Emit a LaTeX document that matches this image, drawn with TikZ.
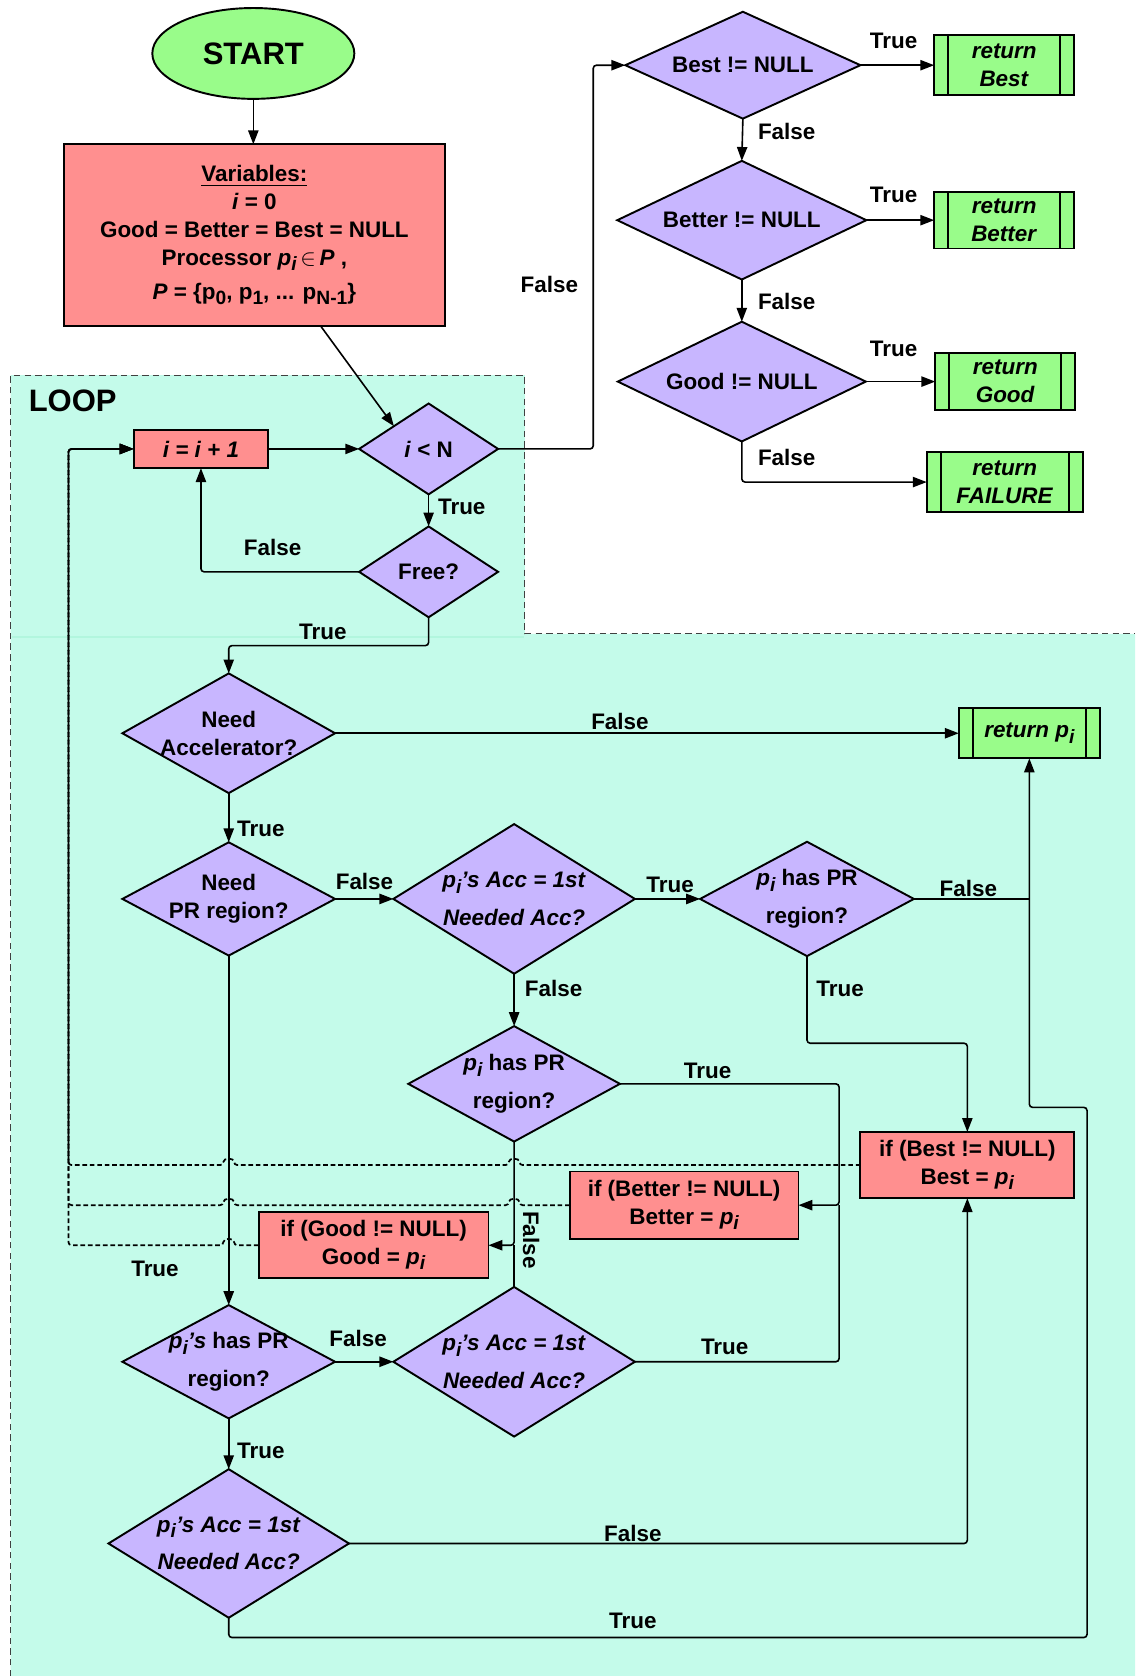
\documentclass[tikz,border=0pt]{standalone}
\usepackage{fontspec}
\setmainfont{Liberation Sans}
\usetikzlibrary{arrows.meta,calc,shapes.geometric}
\definecolor{gfill}{RGB}{153,252,138}
\definecolor{rfill}{RGB}{255,143,143}
\definecolor{pfill}{RGB}{200,182,255}
\definecolor{cfill}{RGB}{196,251,234}
\definecolor{cline}{RGB}{178,246,222}
\newcommand\sbs[1]{\raisebox{-0.45ex}{\fontsize{9}{9}\selectfont #1}}
\newcommand\pii{\textit{p\sbs{i}}}
\newcommand\retbox[6]{%
  \node[term, minimum width=#4pt, minimum height=#5pt] (#1) at (#2,#3) {#6};
  \draw[line width=0.9pt] ([xshift=6.5pt]#1.north west) -- ([xshift=6.5pt]#1.south west)
        ([xshift=-6.5pt]#1.north east) -- ([xshift=-6.5pt]#1.south east);}
\newcommand\decision[6]{%
  \node[dec, minimum width=#4pt, minimum height=#5pt] (#1) at (#2,#3) {};
  \node[dtext] (#1-t) at (#2,#3) {#6};}
\begin{document}
\begin{tikzpicture}[x=0.5pt,y=-0.5pt,
  font=\bfseries\fontsize{10.5}{13}\selectfont,
  >={Triangle[length=6.5pt,width=4.8pt]},
  conn/.style={draw, line width=0.75pt, rounded corners=1.5pt},
  arr/.style={conn,->},
  dsh/.style={draw, line width=0.8pt, dash pattern=on 2.2pt off 1.3pt, rounded corners=1.5pt},
  dec/.style={shape=diamond, draw, fill=pfill, line width=0.9pt, inner sep=0pt, outer sep=0pt},
  dtext/.style={inner sep=0pt, align=center},
  proc/.style={draw, fill=rfill, line width=0.9pt, align=center, inner sep=0pt, outer sep=0pt},
  term/.style={draw, fill=gfill, line width=0.9pt, align=center, inner sep=0pt, outer sep=0pt},
  lbl/.style={inner sep=0pt}]

\useasboundingbox (0,0) rectangle (1062,1568);
% loop background
\fill[cfill] (10,351) -- (491,351) -- (491,593) -- (1062,593) -- (1062,1568) -- (10,1568) -- cycle;
\draw[cline, line width=0.6pt] (11,596) -- (490,596);
\draw[black!75, line width=0.5pt, dash pattern=on 3pt off 2pt] (10,1568) -- (10,351) -- (491,351) -- (491,593) -- (1062,593);
\node[lbl, font=\bfseries\fontsize{14.5}{16}\selectfont] (loop) at (68,375) {LOOP};

% start and variables
\node[draw, ellipse, fill=gfill, line width=0.9pt, minimum width=94.5pt, minimum height=42.5pt, inner sep=0pt, outer sep=0pt,
      font=\bfseries\fontsize{14.5}{16}\selectfont] (start) at (237,50) {START};
\node[proc, minimum width=178pt, minimum height=85pt] (vars) at (238,220)
  {\underline{Variables:}\\
   \textit{i} = 0\\
   Good = Better = Best = NULL\\
   Processor \pii\,$\in$\,\textit{P} ,\\[3pt]
   \textit{P} = \{p\sbs{0}, p\sbs{1}, ... p\sbs{N-1}\}};

% right column
\decision{best}{695}{61}{110}{50}{Best != NULL}
\decision{better}{694}{206}{116.5}{55.5}{Better != NULL}
\decision{good}{694}{357}{116}{56}{Good != NULL}
\retbox{rBest}{939.5}{61}{65.5}{28}{\textit{return}\\\textit{Best}}
\retbox{rBetter}{939.5}{206}{65.5}{26.5}{\textit{return}\\\textit{Better}}
\retbox{rGood}{940.5}{357}{65.5}{27}{\textit{return}\\\textit{Good}}
\retbox{rFail}{940}{451}{73}{28}{\textit{return}\\\textit{FAILURE}}

% loop head
\node[proc, minimum width=63pt, minimum height=18pt] (inc) at (188,420) {\textit{i = i + 1}};
\decision{iN}{401}{420}{65}{42.5}{\textit{i} < N}
\decision{free}{401}{535}{65}{42.5}{Free?}

% main body
\decision{needAcc}{214}{686}{99.5}{56}{Need\\Accelerator?}
\retbox{rPi}{963}{686}{66}{23.5}{\textit{return} \pii}
\decision{needPR}{214}{841}{99.5}{53}{Need\\PR region?}
\decision{acc1}{481}{841}{113}{70}{\pii\textit{'s Acc = 1st}\\[4.5pt]\textit{Needed Acc?}}
\decision{pr1}{755}{841}{100}{53.5}{\pii\ has PR\\[4.5pt]region?}
\decision{pr2}{481}{1014}{99}{54}{\pii\ has PR\\[4.5pt]region?}
\node[proc, minimum width=100pt, minimum height=31pt] (bestBox) at (905,1090) {if (Best != NULL)\\Best = \pii};
\node[proc, minimum width=107pt, minimum height=31.5pt] (betterBox) at (640,1127.5) {if (Better != NULL)\\Better = \pii};
\node[proc, minimum width=107.5pt, minimum height=31pt] (goodBox) at (349.5,1165) {if (Good != NULL)\\Good = \pii};
\decision{prL}{214}{1274}{99.5}{53}{\pii\textit{'s} has PR\\[4.5pt]region?}
\decision{accL}{481}{1274}{113}{70}{\pii\textit{'s Acc = 1st}\\[4.5pt]\textit{Needed Acc?}}
\decision{accB}{214}{1444}{112.5}{69.5}{\pii\textit{'s Acc = 1st}\\[4.5pt]\textit{Needed Acc?}}

% connectors: top
\draw[arr] (start.south) -- (start.south |- vars.north);
\draw[arr] ($(vars.south)+(62,0)$) -- ($(iN.north)!0.5!(iN.west)$);
\draw[arr] (inc.east) -- (inc.east -| iN.west);
\draw[arr] (iN.east) -- (555,420) -- (555,61) -- (best.west);
\draw[arr] (best.east) -- (best.east -| rBest.west);
\draw[arr] (best.south) -- (better.north);
\draw[arr] (better.east) -- (better.east -| rBetter.west);
\draw[arr] (better.south) -- (good.north);
\draw[arr] (good.east) -- (good.east -| rGood.west);
\draw[arr] (good.south) |- (rFail.west);
\draw[arr] (iN.south) -- (free.north);
\draw[arr] (free.west) -| (inc.south);
\draw[arr] (free.south) -- (401,604) -| (needAcc.north);

% connectors: body
\draw[arr] (needAcc.east) -- (needAcc.east -| rPi.west);
\draw[arr] (needAcc.south) -- (needPR.north);
\draw[arr] (needPR.east) -- (acc1.west);
\draw[arr] (acc1.east) -- (pr1.west);
\draw[conn] (pr1.east) -- (963,841);
\draw[arr] (accB.south) -- (214,1532) -- (1017,1532) -- (1017,1036) -- (963,1036) -- (rPi.south);
\draw[arr] (pr1.south) -- (755,976) -| (bestBox.north);
\draw[arr] (acc1.south) -- (pr2.north);
\draw[arr] (pr2.east) -| (785,1127.5) -- (betterBox.east);
\draw[conn] (accL.east) -| (785,1127.5);
\draw[arr] (pr2.south) |- (goodBox.east);
\draw[conn] (accL.north) -- (481,1165);
\draw[arr] (needPR.south) -- (prL.north);
\draw[arr] (prL.east) -- (accL.west);
\draw[arr] (prL.south) -- (accB.north);
\draw[arr] (accB.east) -| (bestBox.south);

% dashed back edges with hops
\draw[dsh,->] (bestBox.west) -- (486,1090) .. controls (486,1083) and (476,1083) .. (476,1090)
   -- (219,1090) .. controls (219,1083) and (209,1083) .. (209,1090) -- (64,1090) -- (64,420) -- (inc.west);
\draw[dsh,->] (betterBox.west) -- (486,1127.5) .. controls (486,1120.5) and (476,1120.5) .. (476,1127.5)
   -- (219,1127.5) .. controls (219,1120.5) and (209,1120.5) .. (209,1127.5) -- (64,1127.5) -- (64,420) -- (inc.west);
\draw[dsh,->] (goodBox.west) -- (219,1165) .. controls (219,1158) and (209,1158) .. (209,1165) -- (64,1165) -- (64,420) -- (inc.west);

% labels
\node[lbl] (l1) at (836,38) {True};
\node[lbl] (l2) at (736,123) {False};
\node[lbl] (l3) at (836,182) {True};
\node[lbl] (l4) at (736,282) {False};
\node[lbl] (l5) at (836,326) {True};
\node[lbl] (l6) at (736,428) {False};
\node[lbl] (l7) at (514,266) {False};
\node[lbl] (l8) at (432,474) {True};
\node[lbl] (l9) at (255,512) {False};
\node[lbl] (l10) at (302,591) {True};
\node[lbl] (l11) at (580,675) {False};
\node[lbl] (l12) at (244,775) {True};
\node[lbl] (l13) at (341,825) {False};
\node[lbl] (l14) at (627,828) {True};
\node[lbl] (l15) at (906,831) {False};
\node[lbl] (l16) at (786,925) {True};
\node[lbl] (l17) at (518,925) {False};
\node[lbl] (l18) at (662,1002) {True};
\node[lbl, rotate=-90] (l19) at (497,1160) {False};
\node[lbl] (l20) at (145,1187) {True};
\node[lbl] (l21) at (335,1252) {False};
\node[lbl] (l22) at (678,1260) {True};
\node[lbl] (l23) at (244,1357) {True};
\node[lbl] (l24) at (592,1435) {False};
\node[lbl] (l25) at (592,1516) {True};
\end{tikzpicture}
\end{document}
